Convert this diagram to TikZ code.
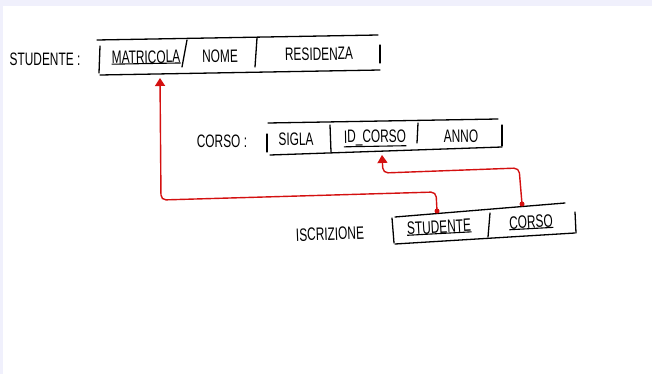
\documentclass[tikz,border=0pt]{standalone}
\usepackage{fontspec}
\newfontfamily\hand[FakeStretch=0.66]{Liberation Sans}
\usetikzlibrary{arrows.meta}
\definecolor{bgband}{RGB}{240,240,252}
\definecolor{linkred}{RGB}{212,16,16}
\tikzset{
  fld/.style={font=\hand\fontsize{18}{18}\selectfont, inner sep=1pt},
  edge/.style={line width=1.3pt, line cap=round, black},
  link/.style={line width=1.4pt, linkred, rounded corners=5pt, -{Triangle[width=10pt,length=8pt]}},
  ldot/.style={circle, fill=linkred, inner sep=0pt, minimum size=5pt},
  uline/.style={line width=1.1pt, black}
}
\begin{document}
\begin{tikzpicture}[x=1pt,y=-1pt]
\useasboundingbox (0,0) rectangle (652,374);
\fill[bgband] (0,0) rectangle (652,374);
\fill[white] (3,6) rectangle (652,374);

% ---- STUDENTE table
\draw[edge] (97,40) -- (378,35);
\draw[edge] (100,46) -- (99,73);
\draw[edge] (100,75) -- (380,70);
\draw[edge] (187,40) -- (182,67);
\draw[edge] (257,38) -- (255,67);
\draw[edge] (380,45) -- (380,63);
\node[fld] (lstud) at (45,59) {STUDENTE :};
\node[fld, rotate=1] (matr) at (146,57) {MATRICOLA};
\draw[uline] ([shift={(1,-1)}]matr.south west) -- ([shift={(-1,-1)}]matr.south east);
\node[fld, rotate=1] (nome) at (220,56) {NOME};
\node[fld, rotate=1] (resid) at (319,54) {RESIDENZA};

% ---- CORSO table
\draw[edge] (268,123) -- (498,119);
\draw[edge] (267,134) -- (267,152);
\draw[edge] (270,155) -- (502,147);
\draw[edge] (330,125) -- (331,152);
\draw[edge] (418,123) -- (417,143);
\draw[edge] (502,125) -- (502,146);
\node[fld] (lcorso) at (222,141) {CORSO :};
\node[fld, rotate=1] (sigla) at (296,139) {SIGLA};
\node[fld, rotate=1] (idcorso) at (375,138) {ID\_CORSO};
\draw[uline] ([shift={(1,-1)}]idcorso.south west) -- ([shift={(-1,-1)}]idcorso.south east);
\node[fld, rotate=1] (anno) at (461,136) {ANNO};

% ---- ISCRIZIONE table
\draw[edge] (395,217) -- (565,203);
\draw[edge] (392,218) -- (394,243);
\draw[edge] (395,244) -- (575,233);
\draw[edge] (490,213) -- (488,237);
\draw[edge] (575,212) -- (576,233);
\node[fld, rotate=2] (liscr) at (330,234) {ISCRIZIONE};
\node[fld, rotate=3] (istud) at (439,227) {STUDENTE};
\draw[uline] ([shift={(1,-1)}]istud.south west) -- ([shift={(-1,-1)}]istud.south east);
\node[fld, rotate=3] (icorso) at (531,222) {CORSO};
\draw[uline] ([shift={(1,-1)}]icorso.south west) -- ([shift={(-1,-1)}]icorso.south east);

% ---- references
\node[ldot] (sdot) at (437,211) {};
\node[ldot] (cdot) at (522,204) {};
\coordinate (mtip) at (160,78);
\coordinate (ctip) at (382,155);
\draw[link] (sdot.center) -- (436,192) -- (161,200) -- (mtip);
\draw[link] (cdot.center) -- (519,168) -- (383,173) -- (ctip);
\end{tikzpicture}
\end{document}
